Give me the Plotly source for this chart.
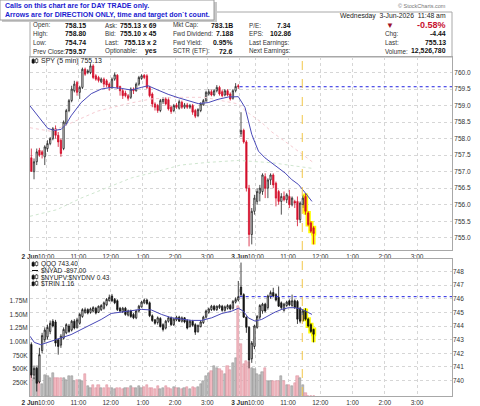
import plotly.graph_objects as go

# ---------------- data ----------------
spy_open = [
    757.42, 757.00, 757.30, 757.65, 757.60, 757.45, 757.70, 757.85, 758.00, 758.30,
    758.10, 757.95, 757.70, 758.45, 758.85, 759.15, 759.45, 759.70, 759.40, 759.55,
    760.10, 760.00, 760.00, 760.20, 759.90, 759.85, 759.72, 759.80, 759.75, 759.65,
    759.55, 759.80, 759.92, 759.58, 759.45, 759.38, 759.30, 759.25, 759.50, 759.45,
    759.65, 759.82, 759.92, 759.90, 759.55, 759.35, 759.05, 759.00, 758.85, 759.12,
    759.20, 759.18, 758.95, 758.85, 759.02, 758.92, 759.10, 758.95, 759.02, 758.95,
    759.00, 758.85, 758.70, 758.85, 759.02, 759.15, 759.35, 759.42, 759.32, 759.45,
    759.55, 759.42, 759.32, 759.45, 759.35, 759.22, 759.45, 759.60,
    758.15, 758.25, 757.90, 756.50, 755.10, 755.80, 756.10, 756.35, 756.40, 756.85,
    756.50, 756.75, 756.90, 756.65, 756.40, 756.10, 756.25, 756.15, 756.25, 756.00,
    756.10, 756.10, 755.55, 756.00, 756.25, 755.75, 755.45, 755.30]
spy_high = [
    757.70, 757.40, 757.70, 757.72, 757.65, 757.80, 757.95, 758.05, 758.35, 758.40,
    758.20, 758.00, 758.55, 758.90, 759.20, 759.60, 759.75, 759.75, 759.60, 760.15,
    760.15, 760.10, 760.28, 760.25, 759.95, 759.90, 759.85, 759.85, 759.80, 759.70,
    759.85, 760.00, 759.95, 759.60, 759.50, 759.45, 759.35, 759.55, 759.55, 759.70,
    759.90, 759.95, 759.95, 759.95, 759.60, 759.40, 759.10, 759.05, 759.20, 759.25,
    759.25, 759.25, 759.00, 759.05, 759.08, 759.18, 759.15, 759.08, 759.08, 759.05,
    759.05, 758.90, 758.92, 759.10, 759.20, 759.45, 759.50, 759.48, 759.50, 759.62,
    759.60, 759.48, 759.50, 759.50, 759.40, 759.50, 759.68, 759.65,
    758.80, 758.30, 757.95, 756.60, 755.90, 756.30, 756.50, 756.60, 756.95, 756.95,
    756.80, 756.95, 756.95, 756.70, 756.45, 756.35, 756.40, 756.35, 756.45, 756.25,
    756.15, 756.25, 756.10, 756.30, 756.35, 755.80, 755.50, 755.35]
spy_low = [
    757.00, 756.77, 757.20, 757.45, 757.40, 757.20, 757.60, 757.80, 757.95, 758.00,
    757.75, 757.45, 757.65, 758.40, 758.80, 759.10, 759.40, 759.30, 759.20, 759.50,
    759.90, 759.95, 759.95, 759.80, 759.75, 759.70, 759.68, 759.55, 759.55, 759.45,
    759.50, 759.75, 759.50, 759.30, 759.20, 759.25, 759.15, 759.20, 759.35, 759.42,
    759.60, 759.78, 759.80, 759.50, 759.25, 758.95, 758.85, 758.78, 758.80, 759.05,
    759.00, 758.85, 758.75, 758.80, 758.90, 758.88, 758.90, 758.90, 758.90, 758.90,
    758.72, 758.62, 758.65, 758.80, 759.00, 759.10, 759.30, 759.28, 759.28, 759.40,
    759.30, 759.25, 759.28, 759.28, 759.15, 759.18, 759.40, 759.50,
    758.05, 757.85, 756.40, 754.74, 754.80, 755.70, 756.00, 756.10, 756.30, 756.20,
    756.20, 756.60, 756.50, 755.95, 756.00, 755.70, 756.10, 756.05, 755.90, 755.95,
    755.90, 755.35, 755.45, 755.90, 755.70, 755.35, 755.15, 754.80]
spy_close = [
    757.01, 757.30, 757.60, 757.50, 757.52, 757.75, 757.85, 758.00, 758.30, 758.10,
    757.90, 757.55, 758.50, 758.85, 759.15, 759.50, 759.65, 759.40, 759.55, 760.10,
    759.95, 760.05, 760.20, 759.85, 759.80, 759.76, 759.80, 759.65, 759.62, 759.55,
    759.80, 759.93, 759.55, 759.45, 759.30, 759.30, 759.22, 759.50, 759.45, 759.65,
    759.85, 759.90, 759.85, 759.55, 759.30, 759.05, 758.95, 758.85, 759.15, 759.20,
    759.05, 758.90, 758.82, 759.00, 758.95, 759.12, 758.95, 759.02, 758.95, 759.00,
    758.80, 758.68, 758.88, 759.05, 759.15, 759.40, 759.42, 759.32, 759.45, 759.55,
    759.35, 759.30, 759.45, 759.32, 759.20, 759.45, 759.58, 759.57,
    758.25, 757.90, 756.50, 755.10, 755.80, 756.20, 756.40, 756.50, 756.90, 756.50,
    756.75, 756.90, 756.60, 756.20, 756.10, 756.25, 756.15, 756.30, 756.00, 756.20,
    756.05, 755.55, 756.05, 756.20, 755.80, 755.40, 755.20, 755.13]

qqq_open = [
    742.65, 740.40, 740.90, 739.90, 742.20, 743.00, 743.20, 743.60, 744.35, 744.30,
    743.00, 742.60, 743.10, 743.50, 744.00, 743.70, 744.35, 743.90, 744.20, 744.70,
    745.00, 745.20, 745.00, 745.10, 745.30, 745.00, 745.20, 745.30, 745.55, 745.85,
    746.20, 745.95, 745.85, 745.30, 745.05, 745.30, 744.80, 745.10, 744.85, 744.60,
    745.10, 745.40, 745.70, 745.90, 745.70, 744.75, 744.45, 744.25, 744.55, 744.10,
    743.85, 744.35, 744.60, 744.10, 744.45, 744.65, 744.35, 744.60, 744.40, 743.95,
    744.35, 744.10, 743.60, 743.95, 744.25, 744.65, 745.00, 745.20, 745.45, 745.20,
    745.35, 745.45, 745.15, 745.30, 745.50, 745.30, 745.75, 745.90,
    746.85, 746.30, 744.65, 743.90, 741.60, 742.50, 743.90, 744.65, 745.10, 745.60,
    745.35, 746.15, 746.45, 746.30, 746.10, 745.70, 745.15, 745.50, 745.85, 745.50,
    745.85, 745.80, 745.30, 744.40, 745.10, 744.50, 744.10, 743.75]
qqq_high = [
    742.80, 741.10, 741.00, 742.40, 743.50, 743.90, 744.10, 744.40, 744.50, 744.45,
    743.10, 743.40, 743.90, 744.20, 744.15, 744.45, 744.50, 744.60, 744.95, 745.30,
    745.35, 745.30, 745.35, 745.45, 745.40, 745.50, 745.60, 745.80, 746.05, 746.30,
    746.35, 746.05, 745.95, 745.40, 745.40, 745.40, 745.20, 745.20, 744.95, 745.20,
    745.55, 745.85, 746.00, 746.00, 745.80, 744.85, 744.50, 744.70, 744.65, 744.20,
    744.45, 744.70, 744.70, 744.60, 744.75, 744.75, 744.70, 744.65, 744.50, 744.45,
    744.45, 744.20, 744.10, 744.40, 744.75, 745.20, 745.35, 745.55, 745.55, 745.50,
    745.60, 745.55, 745.50, 745.60, 745.60, 745.90, 746.10, 747.30,
    748.65, 746.40, 744.70, 744.00, 742.90, 744.10, 744.80, 745.60, 745.70, 745.70,
    746.30, 746.60, 746.80, 746.40, 746.90, 745.80, 745.70, 745.85, 745.95, 746.30,
    745.95, 745.90, 745.40, 745.20, 745.30, 744.60, 744.20, 743.80]
qqq_low = [
    740.20, 740.10, 739.20, 739.80, 742.00, 742.80, 743.00, 743.40, 743.90, 742.50,
    741.90, 742.40, 743.00, 743.40, 743.50, 743.60, 743.75, 743.80, 744.10, 744.60,
    744.90, 744.85, 744.90, 745.00, 744.85, 744.95, 745.10, 745.20, 745.45, 745.80,
    745.75, 745.60, 745.10, 745.00, 744.95, 744.75, 744.70, 744.60, 744.50, 744.50,
    745.00, 745.35, 745.60, 745.55, 744.65, 744.30, 744.10, 744.10, 743.90, 743.60,
    743.75, 744.25, 744.00, 744.00, 744.35, 744.30, 744.25, 744.20, 743.75, 743.90,
    743.95, 743.35, 743.50, 743.90, 744.15, 744.55, 744.90, 745.10, 745.10, 745.10,
    745.25, 745.05, 745.05, 745.20, 745.15, 745.20, 745.65, 745.80,
    746.20, 744.60, 743.50, 740.90, 741.30, 742.30, 743.80, 744.50, 744.90, 745.00,
    745.20, 746.00, 746.10, 745.80, 745.40, 745.20, 745.05, 745.40, 745.45, 745.40,
    745.25, 744.15, 744.20, 744.30, 744.40, 743.90, 743.50, 742.80]
qqq_close = [
    740.40, 740.90, 739.80, 741.90, 743.30, 743.70, 743.90, 744.20, 744.00, 742.75,
    742.50, 743.25, 743.75, 744.10, 743.60, 744.35, 743.85, 744.45, 744.85, 745.20,
    745.20, 744.95, 745.25, 745.35, 744.95, 745.45, 745.50, 745.70, 745.95, 746.10,
    745.85, 745.70, 745.20, 745.10, 745.30, 744.85, 745.10, 744.70, 744.60, 745.10,
    745.45, 745.75, 745.90, 745.65, 744.75, 744.40, 744.20, 744.60, 743.95, 743.75,
    744.35, 744.60, 744.10, 744.50, 744.65, 744.35, 744.60, 744.30, 743.85, 744.35,
    744.05, 743.55, 744.05, 744.30, 744.65, 745.10, 745.25, 745.45, 745.20, 745.45,
    745.50, 745.15, 745.40, 745.50, 745.25, 745.80, 745.95, 746.15,
    746.30, 744.65, 743.90, 741.50, 742.75, 744.00, 744.70, 745.50, 745.60, 745.10,
    746.20, 746.45, 746.20, 745.90, 745.45, 745.35, 745.60, 745.75, 745.55, 745.85,
    745.35, 744.50, 744.35, 745.10, 744.50, 744.00, 743.60, 743.40]

# volume in millions of shares
volume_m = [
    0.42, 0.34, 0.55, 0.28, 0.22, 0.38, 0.36, 0.33, 0.42, 0.33,
    0.33, 0.34, 0.34, 0.30, 0.36, 0.37, 0.27, 0.29, 0.30, 0.28,
    0.40, 0.18, 0.15, 0.21, 0.15, 0.21, 0.15, 0.15, 0.20, 0.15,
    0.15, 0.13, 0.15, 0.15, 0.12, 0.15, 0.15, 0.18, 0.15, 0.15,
    0.18, 0.15, 0.16, 0.20, 0.15, 0.15, 0.13, 0.18, 0.12, 0.15,
    0.18, 0.15, 0.12, 0.16, 0.14, 0.15, 0.12, 0.15, 0.16, 0.13,
    0.17, 0.15, 0.16, 0.22, 0.27, 0.36, 0.42, 0.46, 0.55, 0.52,
    0.49, 0.46, 0.40, 0.55, 0.48, 0.60, 0.70, 1.66,
    0.95, 0.58, 0.64, 0.62, 0.52, 0.50, 0.40, 0.38, 0.45, 0.52,
    0.27, 0.28, 0.27, 0.28, 0.27, 0.36, 0.27, 0.20, 0.21, 0.18,
    0.24, 0.36, 0.33, 0.20, 0.05, 0.00, 0.00, 0.00]

# moving averages (bar position, value)
spy_ma_x = [0, 3, 6.6, 9, 11.6, 13.4, 15.3, 19, 22.8, 26.5, 30.2, 34, 37.7, 41.4, 43.9,
            47.6, 51.4, 55.1, 58.8, 62.6, 66.3, 70, 73.8, 77.5, 80, 81.2, 82.5, 83.7,
            85, 87.4, 89.9, 92.4, 94.9, 97.4, 99.9, 102.4, 104.9]
spy_ma_y = [758.99, 758.69, 758.31, 758.25, 758.28, 758.43, 758.69, 759.09, 759.36, 759.50,
            759.55, 759.52, 759.47, 759.55, 759.60, 759.47, 759.34, 759.24, 759.16, 759.06,
            759.09, 759.19, 759.26, 759.27, 758.94, 758.53, 758.13, 757.88, 757.62, 757.42,
            757.27, 757.12, 756.96, 756.76, 756.61, 756.36, 756.10]
spy_ma2_x = [0, 8, 16, 25, 37, 45, 55, 65, 77.5, 80, 86, 90, 96, 102, 105]
spy_ma2_y = [758.33, 758.22, 758.50, 758.83, 759.07, 759.20, 759.25, 759.25, 759.05,
             758.85, 758.50, 758.20, 757.85, 757.50, 757.30]
spy_ma3_x = [0, 10, 19, 30, 37.7, 47, 56, 66, 77.5, 90, 105]
spy_ma3_y = [755.65, 755.85, 756.20, 756.55, 756.81, 757.00, 757.20, 757.28, 757.34,
             757.27, 757.10]
qqq_ma_x = [0, 1.6, 4, 8, 11.6, 15.3, 19, 22.8, 26.5, 30.2, 34, 37.7, 41.4, 45.2, 48.9,
            52.7, 56.4, 60.1, 63.9, 67.6, 71.4, 75.1, 77.5, 79.4, 81.2, 83.7, 86.2, 88.7,
            91.2, 93.7, 96.2, 98.7, 101.2, 103.7, 104.9]
qqq_ma_y = [743.25, 742.80, 742.63, 742.88, 743.13, 743.37, 743.74, 744.11, 744.48, 744.92,
            745.02, 745.09, 745.22, 745.17, 744.85, 744.60, 744.48, 744.41, 744.41, 744.60,
            744.92, 745.09, 745.30, 745.09, 744.60, 744.36, 744.48, 744.77, 745.02, 745.22,
            745.34, 745.34, 745.22, 744.97, 744.85]

spy_prev_close = 759.57
qqq_prev_close = 746.15
day2_start = 78
n_slots = 157
signal_bar = 101.3
highlight_from = 102

time_ticks = [0, 6, 18, 30, 42, 54, 66, 78, 84, 96, 108, 120, 132, 144]
time_labels = ["<b>2 Jun</b>", "10:00", "11:00", "12:00", "1:00", "2:00", "3:00",
               "<b>3 Jun</b>", "10:00", "11:00", "12:00", "1:00", "2:00", "3:00"]
spy_ticks = [755.0, 755.5, 756.0, 756.5, 757.0, 757.5, 758.0, 758.5, 759.0, 759.5, 760.0]
qqq_ticks = [740, 741, 742, 743, 744, 745, 746, 747, 748]
vol_ticks = [0.25, 0.5, 0.75, 1.0, 1.25, 1.5, 1.75]
vol_labels = ["250K", "500K", "750K", "1.00M", "1.25M", "1.50M", "1.75M"]

hdr_labels = [["Open:", "High:", "Low:", "Prev Close:"],
              ["Ask:", "Bid:", "Last:", "Optionable:"],
              ["Mkt Cap:", "Fwd Dividend:", "Fwd Yield:", "SCTR (ETF):"],
              ["P/E:", "EPS:", "Last Earnings:", "Next Earnings:"],
              ["", "Chg:", "Last:", "Volume:"]]
hdr_values = [["758.15", "758.80", "754.74", "759.57"],
              ["755.13 x 69", "755.10 x 45", "755.13 x 2", "yes"],
              ["783.1B", "7.188", "0.95%", "72.6"],
              ["7.34", "102.86", "", ""],
              ["-0.58%", "-4.44", "755.13", "12,526,780"]]

# ---------------- figure ----------------
FONT = "Liberation Sans, Arial, sans-serif"
W, H = 480, 406
L, R, T, B = 30, 28, 57, 10
PW, PH = W - L - R, H - T - B


def pxx(p):
    return (p - L) / PW


def pxy(p):
    return (H - B - p) / PH


xc = [i + 0.5 for i in range(len(spy_open))]
hl = slice(highlight_from, None)
vol_colors = []
vol_lines = []
for i, c in enumerate(spy_close):
    ref = spy_close[i - 1] if i > 0 else spy_open[0]
    down = c < ref
    vol_colors.append("#f2b8c0" if down else "#bdbdbd")
    vol_lines.append("#d88a96" if down else "#8c8c8c")

fig = go.Figure()

# upper panel
fig.add_trace(go.Scatter(x=spy_ma3_x, y=spy_ma3_y, mode="lines", xaxis="x", yaxis="y",
                         line=dict(color="#cfe6cf", width=1, dash="dot")))
fig.add_trace(go.Scatter(x=spy_ma2_x, y=spy_ma2_y, mode="lines", xaxis="x", yaxis="y",
                         line=dict(color="#f6ccd2", width=1, dash="dot")))
fig.add_trace(go.Scatter(x=[day2_start, n_slots], y=[spy_prev_close, spy_prev_close],
                         mode="lines", xaxis="x", yaxis="y",
                         line=dict(color="#2020e0", width=1, dash="dot")))
fig.add_trace(go.Candlestick(x=xc[hl], open=spy_open[hl], high=spy_high[hl],
                             low=spy_low[hl], close=spy_close[hl], xaxis="x", yaxis="y",
                             increasing=dict(line=dict(color="#ffff00", width=4), fillcolor="#ffff00"),
                             decreasing=dict(line=dict(color="#ffff00", width=4), fillcolor="#ffff00"),
                             whiskerwidth=0))
fig.add_trace(go.Candlestick(x=xc, open=spy_open, high=spy_high, low=spy_low, close=spy_close,
                             xaxis="x", yaxis="y", whiskerwidth=0,
                             increasing=dict(line=dict(color="#222222", width=0.8), fillcolor="#ffffff"),
                             decreasing=dict(line=dict(color="#d4102c", width=0.8), fillcolor="#d4102c")))
fig.add_trace(go.Scatter(x=spy_ma_x, y=spy_ma_y, mode="lines", xaxis="x", yaxis="y",
                         line=dict(color="#4848b8", width=1)))

# lower panel
fig.add_trace(go.Bar(x=xc, y=volume_m, xaxis="x2", yaxis="y2", width=0.8,
                     marker=dict(color=vol_colors, line=dict(color=vol_lines, width=0.5))))
fig.add_trace(go.Scatter(x=[day2_start, n_slots], y=[qqq_prev_close, qqq_prev_close],
                         mode="lines", xaxis="x2", yaxis="y3",
                         line=dict(color="#2020e0", width=1, dash="dot")))
fig.add_trace(go.Candlestick(x=xc[hl], open=qqq_open[hl], high=qqq_high[hl],
                             low=qqq_low[hl], close=qqq_close[hl], xaxis="x2", yaxis="y3",
                             increasing=dict(line=dict(color="#ffff00", width=4), fillcolor="#ffff00"),
                             decreasing=dict(line=dict(color="#ffff00", width=4), fillcolor="#ffff00"),
                             whiskerwidth=0))
fig.add_trace(go.Candlestick(x=xc, open=qqq_open, high=qqq_high, low=qqq_low, close=qqq_close,
                             xaxis="x2", yaxis="y3", whiskerwidth=0,
                             increasing=dict(line=dict(color="#111111", width=0.8), fillcolor="#ffffff"),
                             decreasing=dict(line=dict(color="#111111", width=0.8), fillcolor="#111111")))
fig.add_trace(go.Scatter(x=qqq_ma_x, y=qqq_ma_y, mode="lines", xaxis="x2", yaxis="y3",
                         line=dict(color="#4848b8", width=1)))

tickfont = dict(family=FONT, size=6.5, color="#333333")
grid = dict(showgrid=True, gridcolor="#d6d6d6", griddash="dot", gridwidth=1)
border = dict(showline=True, linecolor="#a8a8a8", linewidth=1, mirror=True, zeroline=False)
xcommon = dict(range=[0, n_slots], tickvals=time_ticks, ticktext=time_labels, ticks="",
               tickangle=0, automargin=False, tickfont=tickfont,
               rangeslider=dict(visible=False), **grid, **border)

top_lo = (H - B - 250) / PH
bot_hi = (H - B - 259) / PH

fig.update_layout(
    width=W, height=H, margin=dict(l=L, r=R, t=T, b=B, autoexpand=False),
    paper_bgcolor="white", plot_bgcolor="white", showlegend=False,
    xaxis=dict(domain=[0, 1], anchor="y", **xcommon),
    yaxis=dict(domain=[top_lo, 1], range=[754.63, 760.47], anchor="x", side="right",
               tickvals=spy_ticks, ticktext=[f"{v:.1f}" for v in spy_ticks], ticks="",
               automargin=False, tickfont=tickfont, **grid, **border),
    xaxis2=dict(domain=[0, 1], anchor="y2", **xcommon),
    yaxis2=dict(domain=[0, bot_hi], range=[0, 2.52], anchor="x2", side="left",
                tickvals=vol_ticks, ticktext=vol_labels, ticks="", tickfont=tickfont,
                automargin=False, showgrid=False, **border),
    yaxis3=dict(overlaying="y2", range=[738.87, 748.91], anchor="x2", side="right",
                tickvals=qqq_ticks, ticktext=[str(v) for v in qqq_ticks], ticks="",
                automargin=False, tickfont=tickfont, **grid, showline=False, zeroline=False),
    bargap=0,
)

shapes = []
# signal lines
shapes.append(dict(type="line", xref="x", yref="y domain", x0=signal_bar, x1=signal_bar,
                   y0=0, y1=1, line=dict(color="#f2c84a", width=1, dash="dash")))
shapes.append(dict(type="line", xref="x2", yref="y2 domain", x0=signal_bar, x1=signal_bar,
                   y0=0, y1=1, line=dict(color="#f2c84a", width=1, dash="dash")))
# header box
shapes.append(dict(type="rect", xref="paper", yref="paper", x0=pxx(30), x1=pxx(452),
                   y0=pxy(57), y1=pxy(12), line=dict(color="#a8a8a8", width=1),
                   fillcolor="white", layer="below"))
# disclaimer box with shadow
shapes.append(dict(type="rect", xref="paper", yref="paper", x0=pxx(2), x1=pxx(217),
                   y0=pxy(22), y1=pxy(2), line=dict(width=0), fillcolor="#c8c8c8"))
shapes.append(dict(type="rect", xref="paper", yref="paper", x0=pxx(0), x1=pxx(214),
                   y0=pxy(20), y1=pxy(0), line=dict(color="#9a9a9a", width=1), fillcolor="white"))


def candle_icon(x, y):
    shapes.append(dict(type="line", xref="paper", yref="paper", x0=pxx(x + 1.2), x1=pxx(x + 1.2),
                       y0=pxy(y + 3), y1=pxy(y - 3), line=dict(color="#111111", width=0.6)))
    shapes.append(dict(type="rect", xref="paper", yref="paper", x0=pxx(x), x1=pxx(x + 2.4),
                       y0=pxy(y + 2), y1=pxy(y - 1.5), line=dict(color="#111111", width=0.6),
                       fillcolor="#111111"))
    shapes.append(dict(type="line", xref="paper", yref="paper", x0=pxx(x + 4.6), x1=pxx(x + 4.6),
                       y0=pxy(y + 2.5), y1=pxy(y - 3), line=dict(color="#111111", width=0.6)))
    shapes.append(dict(type="rect", xref="paper", yref="paper", x0=pxx(x + 3.4), x1=pxx(x + 5.8),
                       y0=pxy(y + 1.5), y1=pxy(y - 2), line=dict(color="#111111", width=0.6),
                       fillcolor="#ffffff"))


candle_icon(32, 61)
candle_icon(32, 264)
shapes.append(dict(type="line", xref="paper", yref="paper", x0=pxx(32), x1=pxx(38),
                   y0=pxy(270.5), y1=pxy(270.5), line=dict(color="#111111", width=1)))
candle_icon(32, 277)
candle_icon(32, 283.5)
fig.update_layout(shapes=shapes)

ann = []


def text(x, y, s, size=7, color="#222222", anchor="left", bold=False):
    if bold:
        s = f"<b>{s}</b>"
    ann.append(dict(x=pxx(x), y=pxy(y), xref="paper", yref="paper", text=s, showarrow=False,
                    xanchor=anchor, yanchor="middle", align=anchor,
                    font=dict(family=FONT, size=size, color=color)))


text(3, 6, "Calls on this chart are for DAY TRADE only.", 7, "#1a1ad0", bold=True)
text(3, 14.5, "Arrows are for DIRECTION ONLY, time and target don`t count.", 7, "#1a1ad0", bold=True)
text(448, 6, "© StockCharts.com", 5.5, "#777777", anchor="right")
text(448, 16, "Wednesday  3-Jun-2026  11:48 am", 6.8, "#222222", anchor="right")

lab_x = [31, 103, 171, 247, 383]
val_x = [88, 159, 235, 293, 448]
row_y = [25, 33.7, 42.6, 51.5]
for c in range(5):
    for r in range(4):
        if hdr_labels[c][r]:
            text(lab_x[c], row_y[r], hdr_labels[c][r], 6.3, "#333333")
        if hdr_values[c][r]:
            if c == 4 and r == 0:
                text(val_x[c], row_y[r], hdr_values[c][r], 9, "#c8102e", anchor="right", bold=True)
            else:
                text(val_x[c], row_y[r], hdr_values[c][r], 6.9, "#111111", anchor="right", bold=True)
text(384, 25, "▼", 8, "#a0102a")

# panel legends
text(39, 61, "SPY (5 min) 755.13", 7, "#222222")
text(39, 264, "QQQ 743.40", 6.5, "#222222")
text(39, 270.5, "$NYAD -897.00", 6.5, "#222222")
text(39, 277, "$NYUPV:$NYDNV 0.43", 6.5, "#222222")
text(39, 283.5, "$TRIN 1.16", 6.5, "#222222")

fig.update_layout(annotations=ann)
fig.write_html("out.html", config={"displayModeBar": False})
